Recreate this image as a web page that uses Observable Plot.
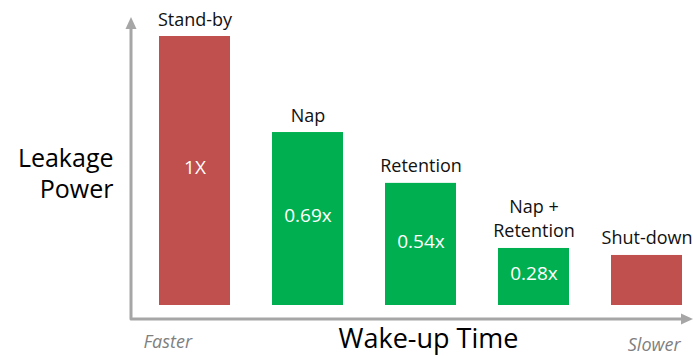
<!DOCTYPE html>
<html>
<head>
<meta charset="utf-8">
<script src="https://cdn.jsdelivr.net/npm/d3@7"></script>
<script src="https://cdn.jsdelivr.net/npm/@observablehq/plot@0.6"></script>
<style>
  html, body { margin: 0; padding: 0; background: #fff; }
  svg { display: block; }
</style>
</head>
<body>
<div id="chart"></div>
<script>
// Data (bar heights relative to Stand-by = 1)
const categories = ["Stand-by", "Nap", "Retention", "Nap +\nRetention", "Shut-down"];
const heights = [1, 0.643, 0.454, 0.212, 0.186];
const valueLabels = ["1X", "0.69x", "0.54x", "0.28x", ""];
const groups = ["base", "saving", "saving", "saving", "base"];

const data = categories.map((c, i) => ({
  mode: c, h: heights[i], label: valueLabels[i], group: groups[i]
}));

const AXIS = "#a6a6a6";

// axis arrows drawn from the plot frame dimensions
function axisArrows(index, scales, values, dim) {
  const g = d3.create("svg:g");
  const x0 = dim.marginLeft, y0 = dim.height - dim.marginBottom;
  const xt = dim.width - dim.marginRight, yt = dim.marginTop;
  g.append("path")
    .attr("d", `M${x0},${yt + 10}L${x0},${y0}L${xt - 10},${y0}`)
    .attr("fill", "none").attr("stroke", AXIS).attr("stroke-width", 3)
    .attr("stroke-linejoin", "round");
  g.append("path")
    .attr("d", `M${x0},${yt}L${x0 - 5.5},${yt + 12}L${x0 + 5.5},${yt + 12}Z`)
    .attr("fill", AXIS);
  g.append("path")
    .attr("d", `M${xt},${y0}L${xt - 12},${y0 - 5.5}L${xt - 12},${y0 + 5.5}Z`)
    .attr("fill", AXIS);
  return g.node();
}

const chart = Plot.plot({
  width: 693,
  height: 356,
  marginLeft: 131,
  marginRight: 0,
  marginTop: 17,
  marginBottom: 37,
  style: { fontFamily: "'Open Sans', sans-serif", fontSize: "18px", background: "#fff", color: "#000" },
  x: { type: "band", domain: categories, range: [157, 683], paddingInner: 0.376, paddingOuter: 0, axis: null },
  y: { domain: [0, 1], range: [305, 36], axis: null },
  color: { domain: ["base", "saving"], range: ["#c0504d", "#00b050"] },
  marks: [
    Plot.barY(data, { x: "mode", y: "h", fill: "group" }),
    Plot.text(data, {
      x: "mode", y: "h", text: "mode", lineAnchor: "bottom", dy: -11,
      fontSize: 18, fill: "#111", lineHeight: 1.38
    }),
    Plot.text(data, {
      x: "mode", y: d => d.h / 2, text: "label", dy: -3,
      fontSize: 19, fill: "#fff"
    }),
    axisArrows,
    Plot.text(["Leakage\nPower"], {
      frameAnchor: "left", textAnchor: "end", dx: -18, dy: 4,
      fontSize: 25, lineHeight: 1.26, fill: "#000"
    }),
    Plot.text(["Wake-up Time"], {
      frameAnchor: "bottom", lineAnchor: "bottom", dx: 16, dy: 28,
      fontSize: 27, fill: "#000"
    }),
    Plot.text(["Faster"], {
      frameAnchor: "bottom-left", textAnchor: "start", lineAnchor: "bottom",
      dx: 12, dy: 28, fontSize: 18, fontStyle: "italic", fill: "#7f7f7f"
    }),
    Plot.text(["Slower"], {
      frameAnchor: "bottom-right", textAnchor: "end", lineAnchor: "bottom",
      dx: -13, dy: 31, fontSize: 18, fontStyle: "italic", fill: "#7f7f7f"
    })
  ]
});

document.getElementById("chart").appendChild(chart);
</script>
</body>
</html>
